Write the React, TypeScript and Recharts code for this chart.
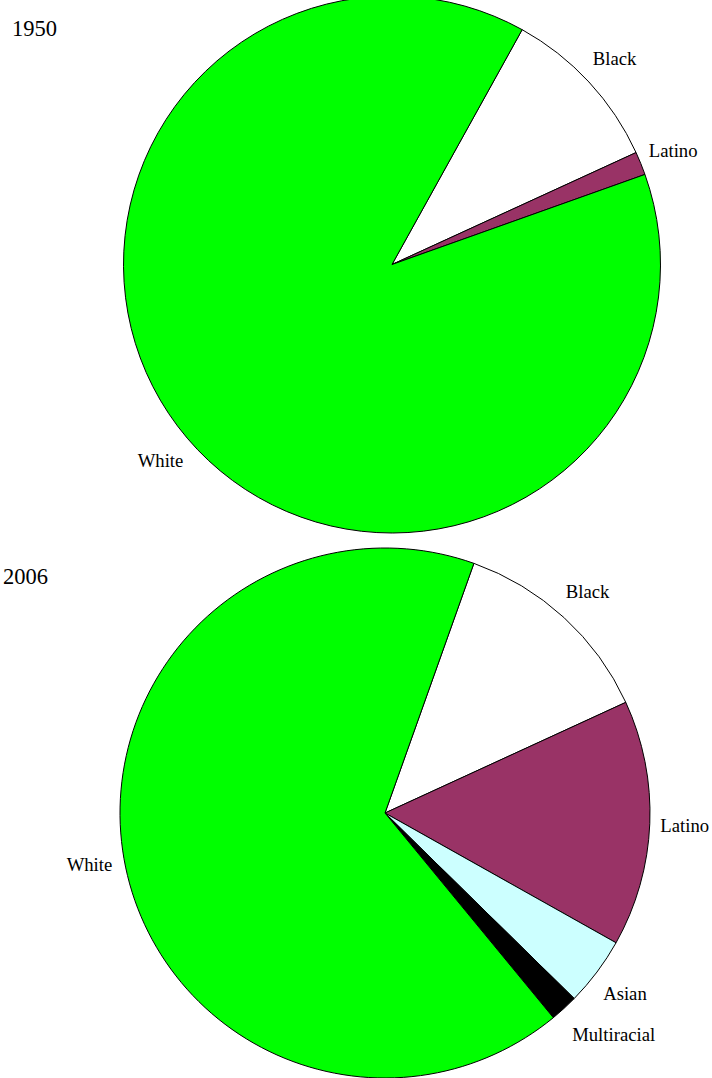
import { PieChart, Pie, Cell } from 'recharts';

// 1950 shares (%), listed clockwise from the White/Black boundary
const groups1950 = ['Black', 'Latino', 'White'];
const shares1950 = [10.1, 1.4, 88.5];

// 2006 shares (%)
const groups2006 = ['Black', 'Latino', 'Asian', 'Multiracial', 'White'];
const shares2006 = [12.7, 15.0, 4.2, 1.7, 66.4];

const groupColors: Record<string, string> = {
  White: '#00ff00',
  Black: '#ffffff',
  Latino: '#993366',
  Asian: '#ccffff',
  Multiracial: '#000000',
};

const FONT = '"Liberation Serif", "Times New Roman", serif';
const RADIAN = Math.PI / 180;

const toRows = (names: string[], values: number[]) =>
  names.map((name, i) => ({ name, value: values[i] }));

const data1950 = toRows(groups1950, shares1950);
const data2006 = toRows(groups2006, shares2006);

// labels sit a bit outside the rim, centred on the slice's mid angle
const renderLabel = (props: any) => {
  const { cx, cy, midAngle, outerRadius, name } = props;
  const r = outerRadius + 35;
  let x = cx + r * Math.cos(-midAngle * RADIAN);
  const y = cy + r * Math.sin(-midAngle * RADIAN);
  // Multiracial is pushed right so it clears the Asian label
  if (name === 'Multiracial') x += 26;
  return (
    <text
      x={x}
      y={y}
      textAnchor="middle"
      dominantBaseline="central"
      fill="#000"
      fontFamily={FONT}
      fontSize={18.7}
    >
      {name}
    </text>
  );
};

export default function App() {
  return (
    <div style={{ position: 'absolute', top: 0, left: 0, width: 712, height: 1078, background: '#fff' }}>
      <PieChart width={712} height={1078} margin={{ top: 0, right: 0, bottom: 0, left: 0 }}>
        <Pie
          data={data1950}
          dataKey="value"
          nameKey="name"
          cx={392}
          cy={264.5}
          outerRadius={268.5}
          startAngle={61}
          endAngle={-299}
          label={renderLabel}
          labelLine={false}
          isAnimationActive={false}
        >
          {data1950.map((d) => (
            <Cell key={d.name} fill={groupColors[d.name]} stroke="#000" strokeWidth={1} />
          ))}
        </Pie>
        <Pie
          data={data2006}
          dataKey="value"
          nameKey="name"
          cx={385}
          cy={813}
          outerRadius={265}
          startAngle={70.4}
          endAngle={-289.6}
          label={renderLabel}
          labelLine={false}
          isAnimationActive={false}
        >
          {data2006.map((d) => (
            <Cell key={d.name} fill={groupColors[d.name]} stroke="#000" strokeWidth={1} />
          ))}
        </Pie>
        <text x={12} y={36} fontFamily={FONT} fontSize={22.5} fill="#000">
          1950
        </text>
        <text x={3} y={584} fontFamily={FONT} fontSize={22.5} fill="#000">
          2006
        </text>
      </PieChart>
    </div>
  );
}
